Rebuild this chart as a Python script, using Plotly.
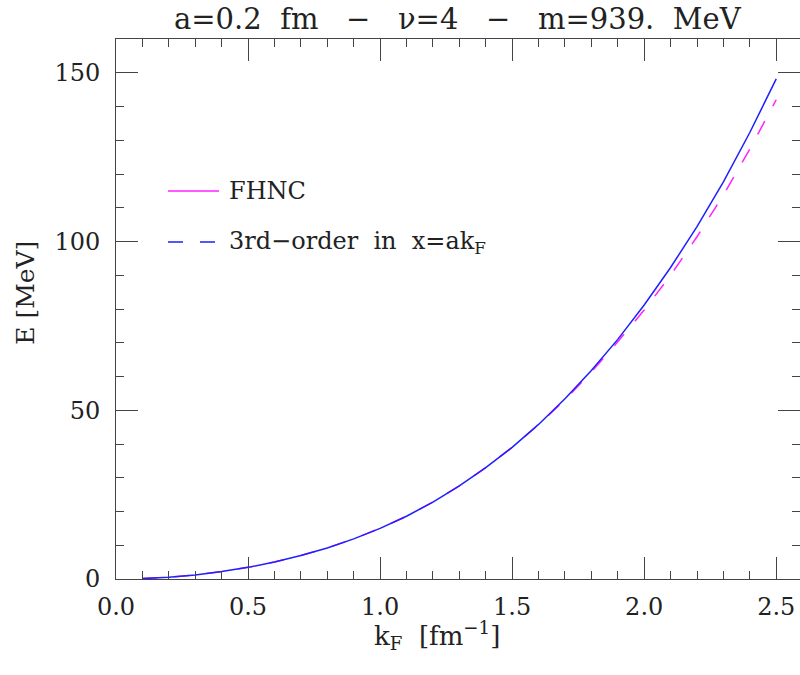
import plotly.graph_objects as go

# Fermi momentum grid [fm^-1]
k_fermi = [0.1, 0.2, 0.3, 0.4, 0.5, 0.6, 0.7, 0.8, 0.9, 1.0,
           1.1, 1.2, 1.3, 1.4, 1.5, 1.6, 1.7, 1.8, 1.9, 2.0,
           2.1, 2.2, 2.3, 2.4, 2.5]

# energy per particle [MeV], solid blue curve
e_solid = [0.13, 0.53, 1.22, 2.2, 3.45, 5.05, 6.95, 9.2, 11.9, 15.0,
           18.6, 22.8, 27.6, 33.0, 39.0, 45.8, 53.4, 61.8, 71.0, 81.2,
           92.3, 104.4, 117.7, 132.3, 148.2]

# energy per particle [MeV], dashed magenta curve
e_dashed = [0.13, 0.53, 1.22, 2.2, 3.45, 5.05, 6.95, 9.2, 11.9, 15.0,
            18.6, 22.8, 27.6, 33.0, 39.0, 45.7, 53.1, 61.3, 70.3, 79.7,
            90.0, 101.4, 113.8, 127.4, 142.0]

legend_labels = ["FHNC", "3rd\u2212order  in  x=ak<sub>F</sub>"]
title_text = "a=0.2  fm   \u2212   \u03bd=4   \u2212   m=939.  MeV"
x_title = "k<sub>F</sub>  [fm<sup>\u22121</sup>]"
y_title = "E [MeV]"

BLUE = "#1f1fff"
MAGENTA = "#ff22ff"
INK = "#222222"
AXIS = "#444444"
FONT = "DejaVu Serif"

fig = go.Figure()
fig.add_trace(go.Scatter(x=k_fermi, y=e_dashed, mode="lines",
                         line=dict(color=MAGENTA, width=1.5, dash="15px,17px"),
                         showlegend=False))
fig.add_trace(go.Scatter(x=k_fermi, y=e_solid, mode="lines",
                         line=dict(color=BLUE, width=1.5),
                         showlegend=False))
# empty trace that activates the right-hand tick axis
fig.add_trace(go.Scatter(x=[None], y=[None], yaxis="y2", showlegend=False,
                         hoverinfo="skip"))

W, H = 800, 675
L, R, T, B = 116, 0, 39, 96
x_range = [0, 2.59]
y_range = [0, 160]

tick_common = dict(ticks="inside", tickcolor=AXIS, tickwidth=1,
                   showgrid=False, zeroline=False)

fig.update_layout(
    width=W, height=H,
    margin=dict(l=L, r=R, t=T, b=B),
    paper_bgcolor="white", plot_bgcolor="white",
    font=dict(family=FONT, color=INK, size=24),
    showlegend=False,
    xaxis=dict(range=x_range, dtick=0.5, tick0=0, ticklen=22,
               tickformat=".1f", showline=True, linecolor=AXIS, linewidth=1,
               mirror="ticks", ticklabelstandoff=6,
               tickfont=dict(size=24, family=FONT, color=INK),
               minor=dict(dtick=0.1, ticklen=8, ticks="inside",
                          tickcolor=AXIS, showgrid=False),
               **tick_common),
    yaxis=dict(range=y_range, dtick=50, tick0=0, ticklen=22,
               showline=True, linecolor=AXIS, linewidth=1, mirror=False,
               ticklabelstandoff=10,
               tickfont=dict(size=24, family=FONT, color=INK),
               minor=dict(dtick=10, ticklen=8, ticks="inside",
                          tickcolor=AXIS, showgrid=False),
               **tick_common),
    yaxis2=dict(range=y_range, overlaying="y", side="right", dtick=50,
                tick0=0, ticklen=22, showline=False, showticklabels=False,
                minor=dict(dtick=10, ticklen=8, ticks="inside",
                           tickcolor=AXIS, showgrid=False),
                **tick_common),
)

# title and axis titles
fig.add_annotation(text=title_text, xref="paper", yref="paper",
                   x=0.5, y=1, yshift=20, yanchor="middle", showarrow=False,
                   font=dict(size=29, family=FONT, color=INK))
fig.add_annotation(text=x_title, xref="paper", yref="paper",
                   x=0.469, y=0, yshift=-56, yanchor="middle", showarrow=False,
                   font=dict(size=26, family=FONT, color=INK))
fig.add_annotation(text=y_title, xref="paper", yref="paper",
                   x=0, xshift=-90, y=0.53, textangle=-90, showarrow=False,
                   xanchor="center", yanchor="middle",
                   font=dict(size=25, family=FONT, color=INK))

# hand-drawn key in the upper left
plot_w = W - L - R
plot_h = H - T - B


def px_x(px):
    return (px - L) / plot_w


def px_y(py):
    return 1 - (py - T) / plot_h


key_rows = [(191, MAGENTA, "solid"), (242, BLUE, "15px,17px")]
for (yy, col, dash), label in zip(key_rows, legend_labels):
    fig.add_shape(type="line", xref="paper", yref="paper",
                  x0=px_x(168), x1=px_x(219), y0=px_y(yy), y1=px_y(yy),
                  line=dict(color=col, width=1.5, dash=dash))
    fig.add_annotation(text=label, xref="paper", yref="paper",
                       x=px_x(227), y=px_y(yy), xanchor="left",
                       yanchor="middle", showarrow=False,
                       font=dict(size=24, family=FONT, color=INK))

fig.write_html("out.html")
